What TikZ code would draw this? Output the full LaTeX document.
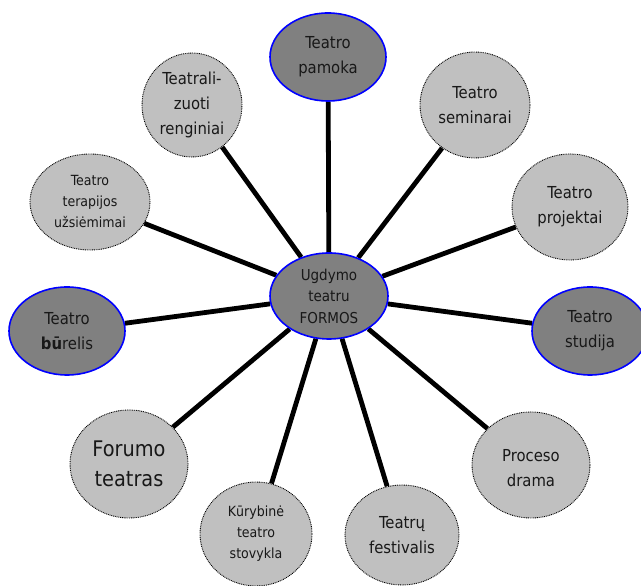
\documentclass[tikz,border=0pt]{standalone}
\usepackage{fontspec}
\setmainfont{DejaVu Sans Condensed}
\usetikzlibrary{shapes.geometric, backgrounds}
\definecolor{deep}{RGB}{128,128,128}
\definecolor{pale}{RGB}{192,192,192}
\definecolor{rim}{RGB}{0,0,255}
\definecolor{ink}{RGB}{24,24,24}

\begin{document}
\begin{tikzpicture}[x=1pt, y=1pt, font=\fontsize{16.5}{25}\selectfont]
  \tikzset{
    form/.style={ellipse, inner sep=0pt, align=center, text=ink},
    core/.style={form, fill=deep, draw=rim, line width=1.6pt},
    side/.style={form, fill=pale, draw=black, line width=0.9pt, dash pattern=on 0.9pt off 0.9pt},
    spoke/.style={draw=black, line width=4.8pt},
    small/.style={font=\fontsize{14}{21}\selectfont}}
  \useasboundingbox (0,0) rectangle (641,586);

  % --- the hub
  \node[core, minimum width=118pt, minimum height=86pt, font=\fontsize{15}{21.5}\selectfont] (hub) at (329,290) {Ugdymo\\teatru\\FORMOS};

  % --- the forms round it, clockwise from the top
  \node[core, minimum width=116pt, minimum height=88pt] (pamoka) at (328,529) {Teatro\\pamoka};
  \node[side, minimum width=110pt, minimum height=106pt] (seminarai) at (475,481) {Teatro\\seminarai};
  \node[side, minimum width=116pt, minimum height=106pt] (projektai) at (570,379) {Teatro\\projektai};
  \node[core, minimum width=116pt, minimum height=88pt] (studija) at (590,255) {Teatro\\studija};
  \node[side, minimum width=118pt, minimum height=106pt] (proceso) at (531,121) {\\[-6pt]Proceso\\drama};
  \node[side, minimum width=114pt, minimum height=100pt] (festivalis) at (402,51) {Teatrų\\festivalis};
  \node[side, small, minimum width=112pt, minimum height=104pt] (kurybine) at (256,52) {Kūrybinė\\teatro\\stovykla};
  \node[side, minimum width=118pt, minimum height=108pt, font=\fontsize{21.5}{30}\selectfont] (forumo) at (129,122) {Forumo\\teatras};
  \node[core, minimum width=116pt, minimum height=88pt] (burelis) at (67,255) {Teatro\\{\bfseries bū}relis};
  \node[side, small, minimum width=120pt, minimum height=96pt] (terapijos) at (90,384) {Teatro\\terapijos\\užsiėmimai};
  \node[side, minimum width=100pt, minimum height=104pt] (renginiai) at (192,481) {Teatrali-\\zuoti\\renginiai};

  % --- spokes behind the forms
  \begin{scope}[on background layer]
    \draw[spoke] (hub) -- (pamoka);
    \draw[spoke] (hub) -- (seminarai);
    \draw[spoke] (hub) -- (projektai);
    \draw[spoke] (hub) -- (studija);
    \draw[spoke] (hub) -- (proceso);
    \draw[spoke] (hub) -- (festivalis);
    \draw[spoke] (hub) -- (kurybine);
    \draw[spoke] (hub) -- (forumo);
    \draw[spoke] (hub) -- (burelis);
    \draw[spoke] (hub) -- (terapijos);
    \draw[spoke] (hub) -- (renginiai);
  \end{scope}
\end{tikzpicture}
\end{document}
